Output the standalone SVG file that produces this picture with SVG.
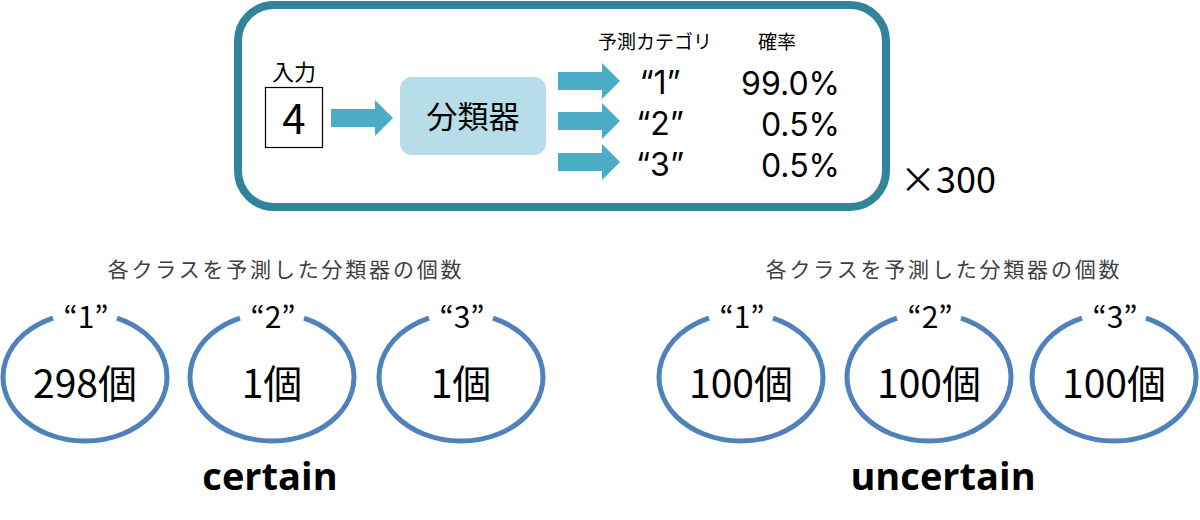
<svg xmlns="http://www.w3.org/2000/svg" width="1200" height="520" viewBox="0 0 1200 520">
<defs>
<style>
text{font-family:"Noto Sans CJK JP","Noto Sans",sans-serif;fill:#000}
.mid{text-anchor:middle}
.end{text-anchor:end}
.arrow{fill:#4bacc6}
.ring{fill:none;stroke:#4f81bd;stroke-width:5}
.hdr{font-size:19px}
.q{font-size:32px;font-family:Inter,"Noto Sans",sans-serif}
.ql{font-size:30px}
.cnt{font-size:39px}
.cap{font-size:21px;fill:#404040;letter-spacing:2.8px}
.big{font-size:38px;font-weight:bold;font-family:"Open Sans","Noto Sans",sans-serif}
</style>
</defs>
<rect width="1200" height="520" fill="#fff"/>
<g id="frame">
<rect x="238" y="5" width="648" height="202" rx="36" fill="#fff" stroke="#31849b" stroke-width="8"/>
</g>
<g id="input">
<text x="294" y="80" class="mid" font-size="22">入力</text>
<rect x="265.5" y="87.5" width="57" height="60" fill="#fff" stroke="#000" stroke-width="1.2"/>
<text x="294" y="134" class="mid" font-size="42">4</text>
</g>
<g id="classifier">
<rect x="400" y="77" width="146" height="78" rx="12" fill="#b7dde8"/>
<text x="473" y="128" class="mid" font-size="31">分類器</text>
</g>
<g id="connectors">
<polygon class="arrow" points="331,109 375,109 375,100 393,118 375,136 375,127 331,127"/>
<polygon class="arrow" points="558,72 602,72 602,63 620,81 602,99 602,90 558,90"/>
<polygon class="arrow" points="558,112 602,112 602,103 620,121 602,139 602,130 558,130"/>
<polygon class="arrow" points="558,153 602,153 602,144 620,162 602,180 602,171 558,171"/>
</g>
<g id="outputs">
<text x="655" y="49" class="mid hdr">予測カテゴリ</text>
<text x="777" y="49" class="mid hdr">確率</text>
<text x="660" y="94" class="mid q">“1”</text>
<text x="660" y="135" class="mid q">“2”</text>
<text x="660" y="176" class="mid q">“3”</text>
<text x="840" y="95" class="end q">99.0%</text>
<text x="840" y="136" class="end q">0.5%</text>
<text x="840" y="177" class="end q">0.5%</text>
</g>
<g id="times">
<text x="900" y="193" font-size="36">×300</text>
</g>
<g id="certain">
<text x="286" y="277" class="mid cap">各クラスを予測した分類器の個数</text>
<g id="c1">
<path class="ring" d="M117,318.1 A82 64 0 1 1 53,318.1"/>
<text x="86" y="328" class="mid ql">“1”</text>
<text x="85" y="398" class="mid cnt">298個</text>
</g>
<g id="c2">
<path class="ring" d="M304,318.1 A82 64 0 1 1 240,318.1"/>
<text x="273" y="328" class="mid ql">“2”</text>
<text x="272" y="398" class="mid cnt">1個</text>
</g>
<g id="c3">
<path class="ring" d="M493,318.1 A82 64 0 1 1 429,318.1"/>
<text x="462" y="328" class="mid ql">“3”</text>
<text x="461" y="398" class="mid cnt">1個</text>
</g>
<text x="270" y="490" class="mid big">certain</text>
</g>
<g id="uncertain">
<text x="944" y="277" class="mid cap">各クラスを予測した分類器の個数</text>
<g id="u1">
<path class="ring" d="M773,318.1 A82 64 0 1 1 709,318.1"/>
<text x="742" y="328" class="mid ql">“1”</text>
<text x="741" y="398" class="mid cnt">100個</text>
</g>
<g id="u2">
<path class="ring" d="M961,318.1 A82 64 0 1 1 897,318.1"/>
<text x="930" y="328" class="mid ql">“2”</text>
<text x="929" y="398" class="mid cnt">100個</text>
</g>
<g id="u3">
<path class="ring" d="M1146,318.1 A82 64 0 1 1 1082,318.1"/>
<text x="1115" y="328" class="mid ql">“3”</text>
<text x="1114" y="398" class="mid cnt">100個</text>
</g>
<text x="943" y="490" class="mid big">uncertain</text>
</g>
</svg>
